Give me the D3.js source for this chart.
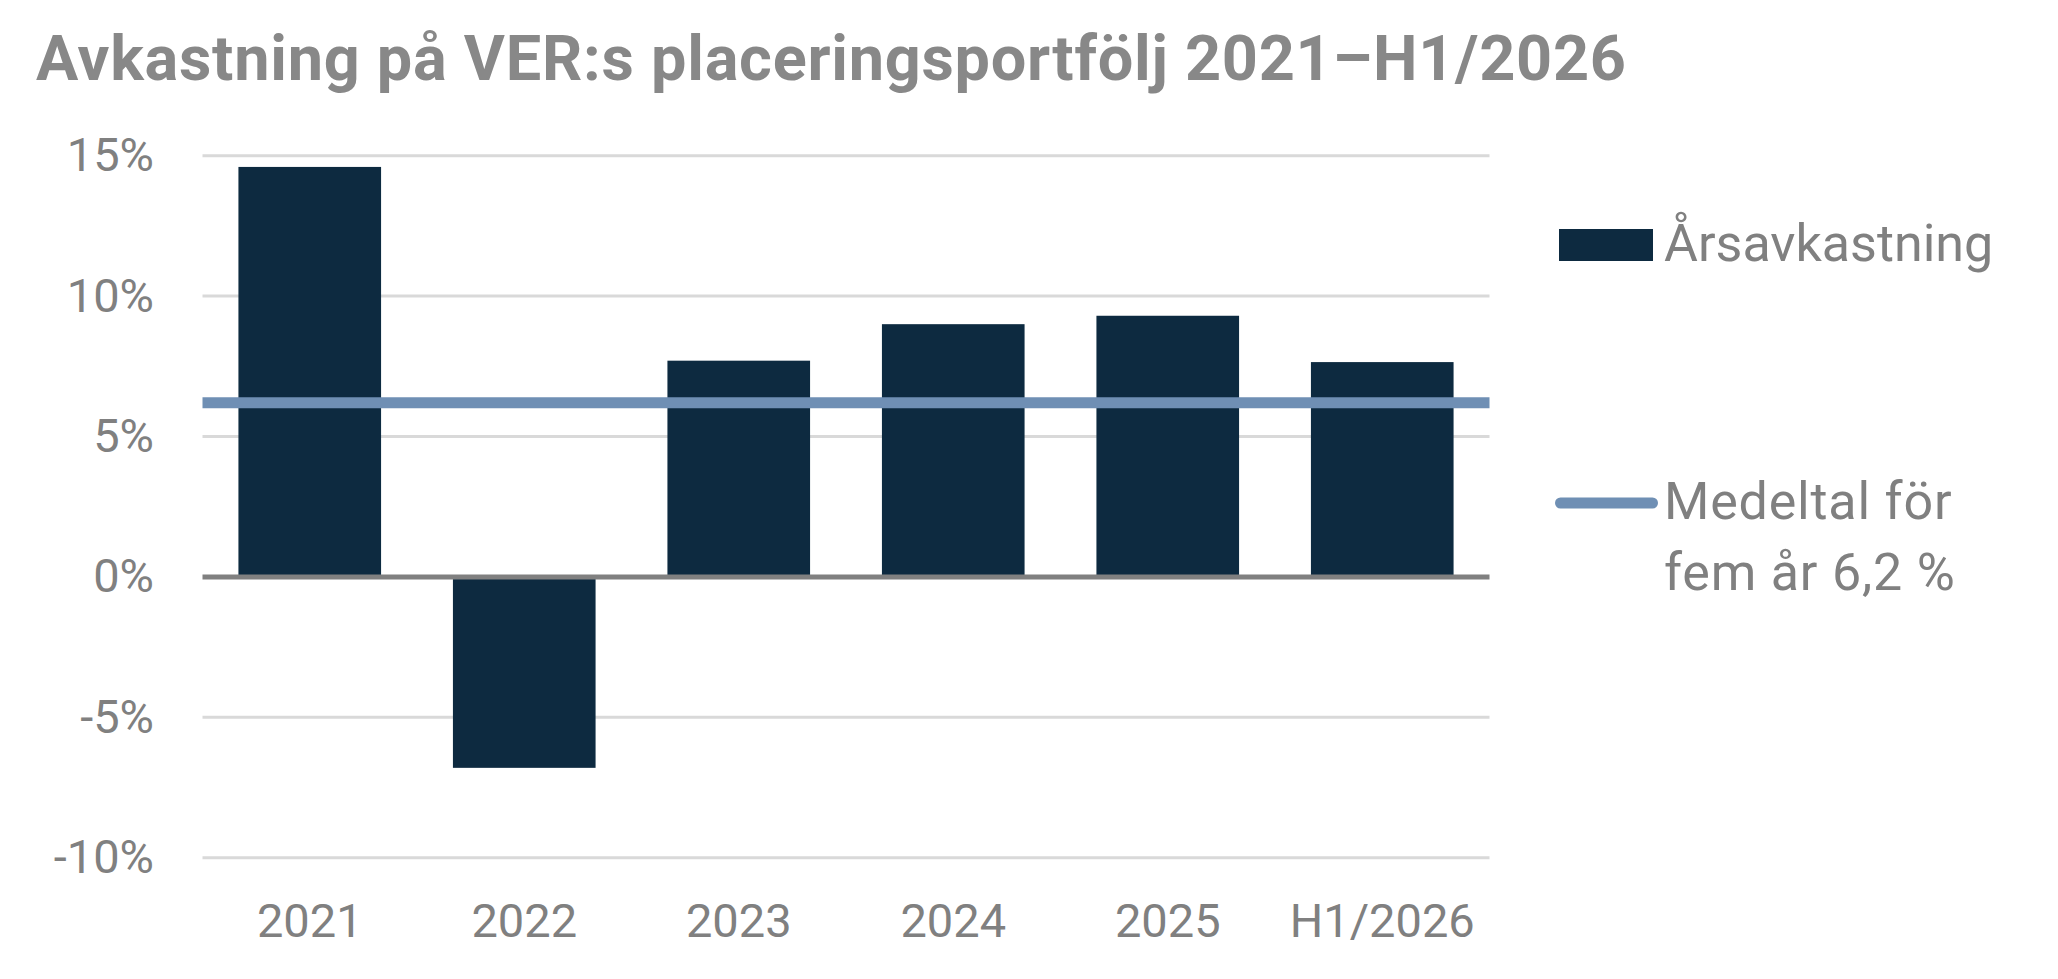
<!DOCTYPE html>
<html>
<head>
<meta charset="utf-8">
<script src="https://cdn.jsdelivr.net/npm/d3@7"></script>
<style>
  body { margin: 0; background: #fff; }
  text { font-family: Roboto, "Noto Sans", sans-serif; fill: #808080; }
</style>
</head>
<body>
<script>
// chart data
var categories = ["2021", "2022", "2023", "2024", "2025", "H1/2026"];
var returns = [14.6, -6.8, 7.7, 9.0, 9.3, 7.65];
var average = 6.2;
var yTicks = [-10, -5, 0, 5, 10, 15];
var title = "Avkastning på VER:s placeringsportfölj 2021\u2013H1/2026";
var legendBar = "Årsavkastning";
var legendLine = ["Medeltal för", "fem år 6,2 %"];

var svgWidth = 2058;
var svgHeight = 979;

var margin = { top: 155.7, left: 202.5, right: 568.5, bottom: 121.3 };

var svg = d3
  .select("body")
  .append("svg")
  .attr("width", svgWidth)
  .attr("height", svgHeight);

// title, stretched to the width it has in the original
var titleText = svg
  .append("text")
  .attr("x", 36)
  .attr("y", 80)
  .attr("font-size", 63)
  .attr("font-weight", 700)
  .style("fill", "#888888")
  .text(title);
var extra = (1590 - titleText.node().getComputedTextLength()) / (title.length - 1);
titleText.attr("letter-spacing", extra);

var xScale = d3
  .scaleBand()
  .domain(categories)
  .range([margin.left, svgWidth - margin.right])
  .paddingInner(0.335)
  .paddingOuter(0.1675);

var yScale = d3
  .scaleLinear()
  .domain([-10, 15])
  .range([svgHeight - margin.bottom, margin.top]);

// gridlines
svg
  .append("g")
  .selectAll("line")
  .data(yTicks.filter((d) => d != 0))
  .enter()
  .append("line")
  .attr("x1", margin.left)
  .attr("x2", svgWidth - margin.right)
  .attr("y1", (d) => yScale(d))
  .attr("y2", (d) => yScale(d))
  .attr("stroke", "#d9d9d9")
  .attr("stroke-width", 3);

// y axis labels
var leftAxis = d3
  .axisLeft(yScale)
  .tickValues(yTicks)
  .tickFormat((d) => d + "%")
  .tickSize(0)
  .tickPadding(48.5);

var yAxis = svg
  .append("g")
  .attr("transform", `translate(${margin.left}, 0)`)
  .call(leftAxis);
yAxis.select(".domain").remove();
yAxis
  .selectAll("text")
  .attr("font-size", 47)
  .style("font-family", "Roboto, sans-serif")
  .style("fill", "#808080");

// bars
svg
  .append("g")
  .selectAll("rect")
  .data(returns)
  .enter()
  .append("rect")
  .attr("x", (d, i) => xScale(categories[i]))
  .attr("width", xScale.bandwidth())
  .attr("y", (d) => yScale(Math.max(0, d)))
  .attr("height", (d) => Math.abs(yScale(d) - yScale(0)))
  .attr("fill", "#0d2a40");

// zero line
svg
  .append("line")
  .attr("x1", margin.left)
  .attr("x2", svgWidth - margin.right)
  .attr("y1", yScale(0))
  .attr("y2", yScale(0))
  .attr("stroke", "#808080")
  .attr("stroke-width", 5);

// average line
svg
  .append("line")
  .attr("x1", margin.left)
  .attr("x2", svgWidth - margin.right)
  .attr("y1", yScale(average))
  .attr("y2", yScale(average))
  .attr("stroke", "#6f8fb4")
  .attr("stroke-width", 11);

// x axis labels
var bottomAxis = d3.axisBottom(xScale).tickSize(0).tickPadding(0);
var xAxis = svg
  .append("g")
  .attr("transform", `translate(0, 937)`)
  .call(bottomAxis);
xAxis.select(".domain").remove();
xAxis
  .selectAll("text")
  .attr("dy", 0)
  .attr("font-size", 47)
  .style("font-family", "Roboto, sans-serif")
  .style("fill", "#808080");

// legend
var legend = svg.append("g");
legend
  .append("rect")
  .attr("x", 1559)
  .attr("y", 229)
  .attr("width", 94)
  .attr("height", 32)
  .attr("fill", "#0d2a40");
legend
  .append("text")
  .attr("x", 1664)
  .attr("y", 260.7)
  .attr("font-size", 52)
  .text(legendBar);
legend
  .append("line")
  .attr("x1", 1560.5)
  .attr("x2", 1652.5)
  .attr("y1", 503)
  .attr("y2", 503)
  .attr("stroke", "#6f8fb4")
  .attr("stroke-width", 11)
  .attr("stroke-linecap", "round");
legend
  .selectAll(".lineLabel")
  .data(legendLine)
  .enter()
  .append("text")
  .classed("lineLabel", true)
  .attr("x", 1664)
  .attr("y", (d, i) => 519.3 + i * 70.7)
  .attr("font-size", 52)
  .attr("letter-spacing", 0.8)
  .text((d) => d);
</script>
</body>
</html>
